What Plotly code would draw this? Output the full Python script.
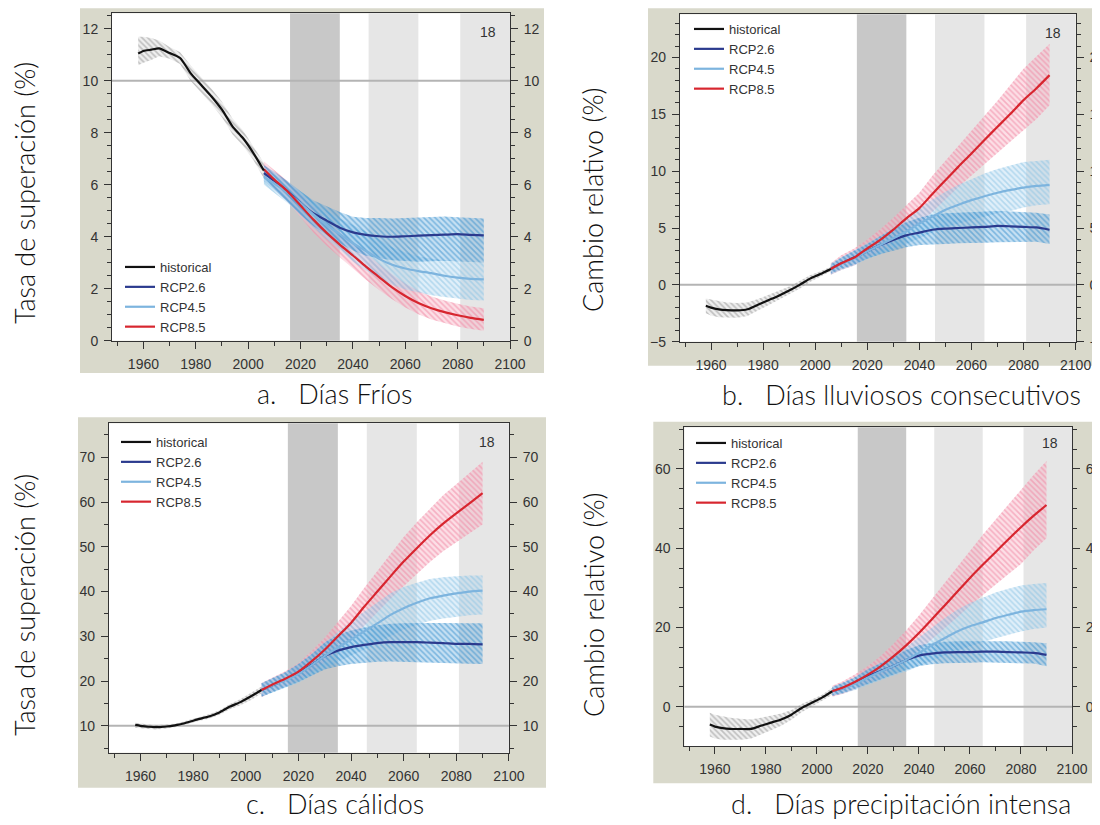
import plotly.graph_objects as go

# page body has an 8 px margin: the figure is placed at (8, 8) in the window
OFF = 8
W, H = 1092, 817

HIST_YEARS = [1958, 1960, 1963, 1966, 1970, 1974, 1978, 1982, 1986, 1990, 1994, 1998, 2002, 2006]
PROJ_YEARS = [2006, 2010, 2015, 2020, 2025, 2030, 2035, 2040, 2045, 2050, 2055, 2060, 2065, 2070, 2075, 2080, 2085, 2090]
X_TICKS = [1960, 1980, 2000, 2020, 2040, 2060, 2080, 2100]
SERIES_NAMES = ["historical", "RCP2.6", "RCP4.5", "RCP8.5"]
CAPTIONS = ["a.\u00a0\u00a0\u00a0Días Fríos", "b.\u00a0\u00a0\u00a0Días lluviosos consecutivos",
            "c.\u00a0\u00a0\u00a0Días cálidos", "d.\u00a0\u00a0\u00a0Días precipitación intensa"]
Y_TITLES = ["Tasa de superación (%)", "Cambio relativo (%)", "Tasa de superación (%)", "Cambio relativo (%)"]
PERIODS_NEAR = [2016, 2035]
PERIODS_FAR = [[2046, 2065], [2081, 2100]]
REF_LINES = [10, 0, 10, 0]
MODEL_COUNT = "18"

# ---- panel a: Días Fríos
A_HIST = [11.05, 11.15, 11.2, 11.25, 11.07, 10.88, 10.3, 9.85, 9.4, 8.89, 8.25, 7.8, 7.22, 6.55]
A_HIST_HI = [11.7, 11.7, 11.65, 11.55, 11.3, 11.1, 10.6, 10.15, 9.7, 9.2, 8.55, 8.1, 7.5, 6.85]
A_HIST_LO = [10.6, 10.7, 10.8, 10.95, 10.85, 10.65, 10.0, 9.55, 9.1, 8.6, 7.95, 7.5, 6.95, 6.25]
A_26 = [6.45, 6.15, 5.75, 5.3, 4.9, 4.62, 4.35, 4.17, 4.07, 4.02, 4.0, 4.02, 4.04, 4.06, 4.08, 4.1, 4.07, 4.05]
A_26_HI = [6.75, 6.5, 6.15, 5.75, 5.4, 5.17, 4.95, 4.77, 4.72, 4.72, 4.7, 4.72, 4.74, 4.76, 4.78, 4.75, 4.72, 4.7]
A_26_LO = [6.15, 5.8, 5.35, 4.85, 4.4, 4.07, 3.75, 3.47, 3.27, 3.17, 3.1, 3.07, 3.04, 3.06, 3.08, 3.05, 3.02, 3.0]
A_45 = [6.3, 6.05, 5.7, 5.3, 4.85, 4.45, 4.1, 3.75, 3.45, 3.15, 2.92, 2.78, 2.68, 2.6, 2.5, 2.43, 2.38, 2.36]
A_45_HI = [6.6, 6.4, 6.1, 5.75, 5.35, 5.0, 4.7, 4.45, 4.2, 3.9, 3.6, 3.4, 3.25, 3.15, 3.1, 3.05, 3.02, 3.0]
A_45_LO = [6.0, 5.7, 5.3, 4.85, 4.35, 3.9, 3.5, 3.05, 2.7, 2.4, 2.15, 1.97, 1.85, 1.75, 1.68, 1.62, 1.57, 1.55]
A_85 = [6.6, 6.2, 5.75, 5.2, 4.65, 4.15, 3.7, 3.28, 2.85, 2.45, 2.05, 1.72, 1.45, 1.25, 1.1, 0.98, 0.88, 0.8]
A_85_HI = [6.9, 6.55, 6.15, 5.65, 5.15, 4.65, 4.2, 3.78, 3.35, 2.95, 2.55, 2.2, 1.92, 1.7, 1.55, 1.42, 1.32, 1.25]
A_85_LO = [6.3, 5.85, 5.35, 4.75, 4.15, 3.65, 3.2, 2.78, 2.35, 1.95, 1.6, 1.28, 1.02, 0.82, 0.68, 0.55, 0.45, 0.38]

# ---- panel b: Días lluviosos consecutivos
B_HIST = [-1.84, -2.0, -2.15, -2.22, -2.25, -2.15, -1.75, -1.35, -0.95, -0.5, 0.0, 0.55, 0.95, 1.4]
B_HIST_HI = [-1.2, -1.3, -1.45, -1.55, -1.6, -1.55, -1.25, -0.9, -0.55, -0.15, 0.35, 0.85, 1.2, 1.6]
B_HIST_LO = [-2.5, -2.7, -2.85, -2.9, -2.9, -2.75, -2.25, -1.8, -1.35, -0.85, -0.35, 0.25, 0.7, 1.2]
B_26 = [1.4, 1.9, 2.4, 2.95, 3.5, 3.95, 4.35, 4.6, 4.85, 4.95, 5.0, 5.05, 5.1, 5.18, 5.15, 5.1, 5.05, 4.85]
B_26_HI = [1.8, 2.4, 3.0, 3.6, 4.3, 4.9, 5.5, 5.9, 6.2, 6.3, 6.35, 6.4, 6.45, 6.5, 6.45, 6.4, 6.35, 6.2]
B_26_LO = [1.0, 1.4, 1.8, 2.3, 2.7, 3.0, 3.3, 3.5, 3.55, 3.6, 3.65, 3.7, 3.7, 3.75, 3.75, 3.8, 3.8, 3.6]
B_45 = [1.4, 1.85, 2.35, 2.95, 3.5, 4.1, 4.7, 5.4, 6.0, 6.6, 7.05, 7.45, 7.8, 8.1, 8.35, 8.55, 8.7, 8.8]
B_45_HI = [1.9, 2.4, 3.0, 3.6, 4.3, 5.0, 5.8, 6.7, 7.5, 8.2, 8.8, 9.3, 9.8, 10.2, 10.5, 10.8, 10.9, 11.0]
B_45_LO = [0.9, 1.3, 1.7, 2.3, 2.7, 3.2, 3.6, 4.1, 4.6, 5.1, 5.4, 5.7, 6.0, 6.3, 6.5, 6.8, 7.0, 7.1]
B_85 = [1.4, 1.9, 2.4, 3.2, 3.95, 4.85, 5.85, 6.75, 8.0, 9.2, 10.4, 11.55, 12.75, 13.9, 15.05, 16.25, 17.3, 18.45]
B_85_HI = [1.9, 2.6, 3.2, 4.0, 4.9, 5.9, 7.0, 8.1, 9.6, 10.9, 12.2, 13.5, 14.9, 16.2, 17.6, 19.0, 20.1, 21.2]
B_85_LO = [0.9, 1.3, 1.7, 2.4, 3.0, 3.8, 4.7, 5.4, 6.4, 7.5, 8.6, 9.6, 10.6, 11.6, 12.6, 13.6, 14.6, 15.8]

# ---- panel c: Días cálidos
C_HIST = [10.2, 10.0, 9.8, 9.7, 9.85, 10.2, 10.8, 11.5, 12.1, 13.0, 14.3, 15.3, 16.6, 18.0]
C_HIST_HI = [10.7, 10.5, 10.3, 10.2, 10.3, 10.6, 11.2, 11.9, 12.6, 13.5, 14.9, 16.0, 17.4, 18.8]
C_HIST_LO = [9.6, 9.5, 9.3, 9.2, 9.4, 9.8, 10.4, 11.1, 11.6, 12.5, 13.7, 14.6, 15.8, 17.2]
C_26 = [18.0, 19.0, 20.3, 21.8, 23.6, 25.6, 26.8, 27.6, 28.1, 28.5, 28.7, 28.7, 28.7, 28.6, 28.5, 28.3, 28.3, 28.2]
C_26_HI = [19.5, 20.6, 22.0, 23.8, 26.0, 28.6, 30.3, 31.3, 32.0, 32.5, 32.8, 32.9, 33.0, 33.0, 33.0, 32.9, 32.9, 32.9]
C_26_LO = [16.5, 17.4, 18.6, 19.8, 21.2, 22.6, 23.3, 23.8, 24.1, 24.3, 24.4, 24.4, 24.3, 24.2, 24.1, 24.0, 23.9, 23.8]
C_45 = [18.0, 19.0, 20.2, 21.6, 23.5, 25.6, 27.5, 29.3, 31.1, 32.9, 34.8, 36.3, 37.5, 38.5, 39.1, 39.6, 40.0, 40.2]
C_45_HI = [19.5, 20.6, 22.0, 23.8, 26.0, 28.6, 31.0, 33.3, 35.5, 37.6, 39.6, 41.0, 42.0, 42.8, 43.2, 43.4, 43.6, 43.6]
C_45_LO = [16.5, 17.4, 18.5, 19.6, 21.2, 22.8, 24.3, 25.7, 27.0, 28.4, 30.0, 31.5, 32.6, 33.5, 34.0, 34.4, 34.7, 34.9]
C_85 = [18.0, 19.2, 20.5, 22.1, 24.4, 27.0, 30.0, 33.0, 36.6, 40.0, 43.4, 46.7, 49.7, 52.6, 55.2, 57.5, 59.7, 62.0]
C_85_HI = [19.6, 20.8, 22.2, 24.0, 26.7, 29.7, 33.2, 36.8, 40.8, 44.6, 48.5, 52.2, 55.5, 58.6, 61.5, 64.0, 66.5, 69.0]
C_85_LO = [16.4, 17.6, 18.8, 20.2, 22.1, 24.3, 26.8, 29.3, 32.4, 35.4, 38.4, 41.2, 44.0, 46.6, 49.0, 51.0, 53.0, 55.0]

# ---- panel d: Días precipitación intensa
D_HIST = [-4.5, -5.0, -5.4, -5.6, -5.6, -5.6, -4.8, -4.0, -3.2, -2.0, -0.3, 1.0, 2.3, 3.9]
D_HIST_HI = [-1.5, -2.0, -2.4, -2.8, -3.0, -3.2, -2.8, -2.3, -1.7, -0.8, 0.7, 1.8, 3.0, 4.8]
D_HIST_LO = [-7.5, -8.0, -8.3, -8.4, -8.3, -8.1, -7.0, -5.9, -4.8, -3.3, -1.4, 0.1, 1.5, 3.0]
D_26 = [3.9, 4.7, 6.0, 7.7, 9.0, 10.3, 11.8, 12.9, 13.4, 13.7, 13.8, 13.8, 13.9, 13.9, 13.8, 13.7, 13.6, 13.1]
D_26_HI = [5.0, 6.0, 7.5, 9.5, 11.0, 12.5, 14.3, 15.5, 16.1, 16.4, 16.5, 16.5, 16.6, 16.6, 16.5, 16.4, 16.3, 16.0]
D_26_LO = [2.8, 3.4, 4.5, 5.9, 7.0, 8.1, 9.3, 10.3, 10.7, 11.0, 11.1, 11.1, 11.2, 11.2, 11.1, 11.0, 10.9, 10.2]
D_45 = [3.9, 4.6, 5.8, 7.4, 8.9, 10.3, 11.8, 13.6, 15.5, 17.3, 19.0, 20.3, 21.3, 22.4, 23.2, 24.0, 24.4, 24.6]
D_45_HI = [5.0, 6.0, 7.4, 9.3, 11.2, 13.0, 15.0, 17.5, 20.0, 22.3, 24.5, 26.2, 27.5, 28.8, 29.8, 30.6, 31.0, 31.2]
D_45_LO = [2.8, 3.3, 4.2, 5.5, 6.7, 7.8, 8.9, 10.2, 11.5, 12.9, 14.2, 15.3, 16.3, 17.3, 18.2, 19.0, 19.6, 20.0]
D_85 = [3.9, 4.8, 6.3, 8.1, 10.2, 12.7, 15.5, 18.6, 22.0, 25.5, 29.0, 32.5, 35.8, 39.0, 42.2, 45.3, 48.2, 50.9]
D_85_HI = [5.3, 6.4, 8.2, 10.3, 12.8, 15.9, 19.3, 23.0, 27.1, 31.2, 35.4, 39.5, 43.4, 47.2, 51.0, 54.8, 58.5, 62.0]
D_85_LO = [2.5, 3.2, 4.4, 5.9, 7.6, 9.5, 11.7, 14.2, 16.9, 19.8, 22.6, 25.5, 28.2, 30.8, 33.4, 36.0, 39.5, 42.5]

PANELS = [
    (A_HIST, A_HIST_HI, A_HIST_LO, A_26, A_26_HI, A_26_LO, A_45, A_45_HI, A_45_LO, A_85, A_85_HI, A_85_LO),
    (B_HIST, B_HIST_HI, B_HIST_LO, B_26, B_26_HI, B_26_LO, B_45, B_45_HI, B_45_LO, B_85, B_85_HI, B_85_LO),
    (C_HIST, C_HIST_HI, C_HIST_LO, C_26, C_26_HI, C_26_LO, C_45, C_45_HI, C_45_LO, C_85, C_85_HI, C_85_LO),
    (D_HIST, D_HIST_HI, D_HIST_LO, D_26, D_26_HI, D_26_LO, D_45, D_45_HI, D_45_LO, D_85, D_85_HI, D_85_LO),
]

# ---- layout geometry (window pixels)
FRAMES = [(112, 510, 13.3, 340.7), (679.8, 1075.6, 14.3, 341.7),
          (108.9, 508.9, 423.3, 752.7), (684.3, 1072, 427.3, 746)]
Y_RANGES = [[0, 12.6], [-5, 23.8], [4, 77.6], [-9.9, 70.5]]
Y_DTICK = [2, 5, 10, 20]
Y_MINOR = [0.5, 1, 5, 5]
BEIGE = [(80, 544, 8.3, 373), (648, 1100, 8.3, 365.7), (78, 546, 417.3, 787.7), (653.3, 1100, 421.7, 783.3)]
LEGEND_POS = [(120, 252), (689, 14), (116, 427), (691, 428)]
COUNT_Y = [32, 33, 442, 443.3]
TITLE_POS = [(24, 193), (593, 200), (24, 605), (593, 605)]
CAPTION_POS = [(335, 393), (901, 394), (334.5, 803), (901, 803)]

HIST_C, C26, C45, C85 = "#111111", "#2b3a8e", "#7db4de", "#d7262f"
BAND_STYLE = {
    "hist": ("#8f8f8f", "rgba(190,190,190,0.25)"),
    "26": ("#2f8bcb", "rgba(90,165,220,0.35)"),
    "45": ("#86c2e4", "rgba(165,208,236,0.35)"),
    "85": ("#f07f9d", "rgba(248,185,200,0.45)"),
}
TICK_FONT = dict(family="Liberation Sans, Arial, sans-serif", size=14, color="#333333")
BIG_FONT = dict(family="Lato, sans-serif", size=27, color="#111111", weight=300)
BEIGE_C = "#d9d9cb"

fig = go.Figure()


def px_x(v):
    return (v - OFF) / W


def px_y(v):
    return 1 - (v - OFF) / H


def band(xs, hi, lo, key, xa, ya):
    fg, bg = BAND_STYLE[key]
    fig.add_trace(go.Scatter(
        x=list(xs) + list(xs)[::-1], y=list(hi) + list(lo)[::-1],
        xaxis=xa, yaxis=ya, mode="lines", line=dict(width=0),
        fill="toself", fillcolor=bg,
        fillpattern=dict(shape="\\", size=4, solidity=0.4, fgcolor=fg, bgcolor=bg),
        hoverinfo="skip", showlegend=False))


for i, data in enumerate(PANELS):
    (h, hh, hl, r26, r26h, r26l, r45, r45h, r45l, r85, r85h, r85l) = data
    n = i + 1
    xa = "x" if n == 1 else f"x{n}"
    ya = "y" if n == 1 else f"y{n}"
    leg = "legend" if n == 1 else f"legend{n}"
    band(PROJ_YEARS, r85h, r85l, "85", xa, ya)
    band(PROJ_YEARS, r45h, r45l, "45", xa, ya)
    band(PROJ_YEARS, r26h, r26l, "26", xa, ya)
    band(HIST_YEARS, hh, hl, "hist", xa, ya)
    line_specs = [(PROJ_YEARS, r26, C26, SERIES_NAMES[1], 2),
                  (PROJ_YEARS, r45, C45, SERIES_NAMES[2], 3),
                  (PROJ_YEARS, r85, C85, SERIES_NAMES[3], 4),
                  (HIST_YEARS, h, HIST_C, SERIES_NAMES[0], 1)]
    for xs, ys, col, name, rank in line_specs:
        fig.add_trace(go.Scatter(
            x=xs, y=ys, xaxis=xa, yaxis=ya, mode="lines", name=name,
            line=dict(color=col, width=2.2, shape="spline", smoothing=0.6),
            legend=leg, legendrank=rank, hoverinfo="skip", showlegend=True))
    # invisible trace for the right-hand labelled axis
    fig.add_trace(go.Scatter(x=[X_TICKS[0]], y=[Y_RANGES[i][0]], xaxis=xa, yaxis=f"y{n + 4}",
                             mode="markers", opacity=0, showlegend=False, hoverinfo="skip"))

layout = dict(width=W, height=H, margin=dict(l=0, r=0, t=0, b=0, autoexpand=False),
              paper_bgcolor="white", plot_bgcolor="white", showlegend=True,
              shapes=[], annotations=[])

# beige panel backgrounds first (paper-referenced, lowest)
for i in range(4):
    bx0, bx1, by0, by1 = BEIGE[i]
    layout["shapes"].append(dict(type="rect", xref="paper", yref="paper", x0=px_x(bx0), x1=px_x(bx1),
                                 y0=px_y(by1), y1=px_y(by0), fillcolor=BEIGE_C, line=dict(width=0),
                                 layer="below"))

for i in range(4):
    n = i + 1
    x0, x1, y0, y1 = FRAMES[i]
    xk = "xaxis" if n == 1 else f"xaxis{n}"
    yk = "yaxis" if n == 1 else f"yaxis{n}"
    xa = "x" if n == 1 else f"x{n}"
    ya = "y" if n == 1 else f"y{n}"
    layout[xk] = dict(domain=[px_x(x0), px_x(x1)], anchor=ya, range=[1948, 2100],
                      tickvals=X_TICKS, ticks="outside", ticklen=7, tickwidth=1, tickcolor="#333",
                      minor=dict(tickvals=list(range(1950, 2100, 10)), ticks="outside", ticklen=4,
                                 tickcolor="#333"),
                      showline=True, linecolor="#333", linewidth=1, mirror=True,
                      showgrid=False, zeroline=False, tickfont=TICK_FONT, ticklabelstandoff=3)
    common_y = dict(range=Y_RANGES[i], dtick=Y_DTICK[i], tick0=0, ticks="outside", ticklen=7,
                    tickwidth=1, tickcolor="#333",
                    minor=dict(dtick=Y_MINOR[i], tick0=0, ticks="outside", ticklen=4, tickcolor="#333"),
                    showgrid=False, zeroline=False, tickfont=TICK_FONT, ticklabelstandoff=3)
    layout[yk] = dict(domain=[px_y(y1), px_y(y0)], anchor=xa, showline=True, linecolor="#333",
                      linewidth=1, mirror=True, **common_y)
    layout[f"yaxis{n + 4}"] = dict(overlaying=ya, anchor=xa, side="right", showline=False, **common_y)

    lx, ly = LEGEND_POS[i]
    lk = "legend" if n == 1 else f"legend{n}"
    layout[lk] = dict(x=px_x(lx), y=px_y(ly), xanchor="left", yanchor="top",
                      bgcolor="rgba(0,0,0,0)", borderwidth=0, itemwidth=30, tracegroupgap=0,
                      font=dict(family="Liberation Sans, Arial, sans-serif", size=13, color="#333"))

    # white plotting area, then the period bands and the reference line
    layout["shapes"].append(dict(type="rect", xref=f"{xa} domain", yref=f"{ya} domain", x0=0, x1=1,
                                 y0=0, y1=1, fillcolor="white", line=dict(width=0), layer="below"))
    layout["shapes"].append(dict(type="rect", xref=xa, yref=f"{ya} domain", x0=PERIODS_NEAR[0],
                                 x1=PERIODS_NEAR[1], y0=0, y1=1, fillcolor="#c8c8c8",
                                 line=dict(width=0), layer="below"))
    for p0, p1 in PERIODS_FAR:
        layout["shapes"].append(dict(type="rect", xref=xa, yref=f"{ya} domain", x0=p0, x1=p1,
                                     y0=0, y1=1, fillcolor="#e6e6e6", line=dict(width=0),
                                     layer="below"))
    layout["shapes"].append(dict(type="line", xref=f"{xa} domain", yref=ya, x0=0, x1=1,
                                 y0=REF_LINES[i], y1=REF_LINES[i],
                                 line=dict(color="#b4b4b4", width=2), layer="below"))

    layout["annotations"].append(dict(text=MODEL_COUNT, xref=xa, yref="paper", x=2091.5,
                                      y=px_y(COUNT_Y[i]), showarrow=False, xanchor="center",
                                      yanchor="middle", font=TICK_FONT))
    tx, ty = TITLE_POS[i]
    layout["annotations"].append(dict(text=Y_TITLES[i], xref="paper", yref="paper", x=px_x(tx),
                                      y=px_y(ty), showarrow=False, textangle=-90, xanchor="center",
                                      yanchor="middle", font=BIG_FONT))
    cx, cy = CAPTION_POS[i]
    layout["annotations"].append(dict(text=CAPTIONS[i], xref="paper", yref="paper", x=px_x(cx),
                                      y=px_y(cy), showarrow=False, xanchor="center",
                                      yanchor="middle", font=BIG_FONT))

fig.update_layout(layout)
fig.write_html("out.html")
